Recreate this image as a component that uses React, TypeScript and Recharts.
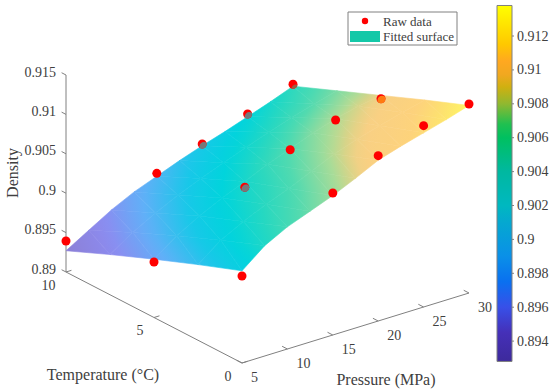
import React from 'react';
import { ScatterChart, Scatter, XAxis, YAxis, ReferenceLine, ReferenceArea } from 'recharts';

// raw measurements, rows follow RAW_TEMPERATURE, columns follow RAW_PRESSURE
const RAW_PRESSURE = [5, 15, 20, 25, 30];
const RAW_TEMPERATURE = [0, 5, 10];
const RAW_DENSITY = [
  [0.90104, 0.90802, 0.91098, 0.91301, 0.91398],
  [0.89704, 0.90297, 0.90596, 0.90796, 0.90888],
  [0.89393, 0.89897, 0.90091, 0.90294, 0.90494],
];
// dots sitting partly under the surface show another colour there
const COVERED_RAW = [
  { pressure: 15, temperature: 5, fill: '#77787a', cover: 0.8 },
  { pressure: 25, temperature: 10, fill: '#77787a', cover: 0.65 },
  { pressure: 20, temperature: 10, fill: '#77787a', cover: 0.65 },
  { pressure: 30, temperature: 10, fill: '#a05a40', cover: 0.2 },
  { pressure: 30, temperature: 5, fill: '#ff7a10', cover: 0.85 },
];

// fitted surface
const SURFACE_PRESSURE = [5, 7.5, 10, 12.5, 15, 17.5, 20, 22.5, 25, 27.5, 30];
const SURFACE_TEMPERATURE = [0, 2.5, 5, 7.5, 10];
const SURFACE_DENSITY = [
  [0.9017, 0.904, 0.9055, 0.9066, 0.9077, 0.909, 0.9104, 0.9113, 0.9121, 0.9129, 0.9138],
  [0.8996, 0.9018, 0.9033, 0.9046, 0.9057, 0.907, 0.9083, 0.9093, 0.9101, 0.9109, 0.9116],
  [0.8974, 0.8995, 0.9011, 0.9025, 0.9037, 0.905, 0.9061, 0.9072, 0.9081, 0.9088, 0.9093],
  [0.8951, 0.897, 0.8986, 0.9, 0.9012, 0.9023, 0.9034, 0.9044, 0.9054, 0.9062, 0.907],
  [0.8927, 0.8944, 0.8961, 0.8975, 0.8986, 0.8997, 0.9007, 0.9016, 0.9026, 0.9036, 0.9047],
];

const SURFACE_COLOR_Z = [0.8927, 0.8955, 0.898, 0.9005, 0.9025, 0.9045, 0.906, 0.908, 0.9088, 0.9095, 0.9115, 0.9125, 0.9138];
const SURFACE_COLORS = ['#8c7fd6', '#8c8cf0', '#60b0f8', '#18c8e8', '#00d4dc', '#28d8c0', '#50dab0', '#a8dc98', '#d8d488', '#f8d084', '#fdd27c', '#fde070', '#fff566'];

const BAR_COLOR_Z = [0.8928, 0.8945, 0.896, 0.8975, 0.899, 0.901, 0.902, 0.904, 0.906, 0.9068, 0.908, 0.909, 0.9097, 0.9105, 0.9115, 0.9125, 0.9138];
const BAR_COLORS = ['#3d2a9c', '#4530b8', '#3850e8', '#0a70f0', '#0a90e8', '#05a8d0', '#00b8c0', '#00b8a0', '#00c060', '#20c050', '#90b830', '#d0b010', '#f0a820', '#ffa820', '#ffc800', '#ffe000', '#ffff00'];

const DENSITY_TICKS = [0.89, 0.895, 0.9, 0.905, 0.91, 0.915];
const TEMPERATURE_TICKS = [0, 5, 10];
const PRESSURE_TICKS = [5, 10, 15, 20, 25, 30];
const BAR_TICKS = [0.894, 0.896, 0.898, 0.9, 0.902, 0.904, 0.906, 0.908, 0.91, 0.912];
const LEGEND_NAMES = ['Raw data', 'Fitted surface'];

const WIDTH = 550;
const HEIGHT = 392;
const FONT = '"Liberation Serif", serif';
const TEXT = '#404040';
const AXIS = '#808080';

// view of the 3D box, in chart units
const project = (pressure: number, temperature: number, density: number) => ({
  sx: 242 + ((pressure - 5) / 25) * 227 - (temperature / 10) * 176,
  sy: 363 - ((pressure - 5) / 25) * 70 - (temperature / 10) * 91 - ((density - 0.89) / 0.025) * 197,
});
const barY = (value: number) => 36 + ((0.912 - value) / 0.002) * 33.9;

const hexToRgb = (hex: string) => [1, 3, 5].map((i) => parseInt(hex.slice(i, i + 2), 16));

const surfaceColor = (z: number) => {
  let i = 0;
  while (i < SURFACE_COLOR_Z.length - 2 && z > SURFACE_COLOR_Z[i + 1]) i++;
  const t = Math.min(1, Math.max(0, (z - SURFACE_COLOR_Z[i]) / (SURFACE_COLOR_Z[i + 1] - SURFACE_COLOR_Z[i])));
  const a = hexToRgb(SURFACE_COLORS[i]);
  const b = hexToRgb(SURFACE_COLORS[i + 1]);
  return `rgb(${a.map((v, k) => Math.round(v + (b[k] - v) * t)).join(',')})`;
};

// two triangles per mesh cell
type Vertex = { sx: number; sy: number; z: number };
const vertex = (row: number, col: number): Vertex => {
  const z = SURFACE_DENSITY[row][col];
  return { ...project(SURFACE_PRESSURE[col], SURFACE_TEMPERATURE[row], z), z };
};
const triangles: { sx: number; sy: number; id: string; corners: Vertex[] }[] = [];
SURFACE_TEMPERATURE.slice(1).forEach((_, r) => {
  SURFACE_PRESSURE.slice(1).forEach((_, c) => {
    const a = vertex(r, c);
    const b = vertex(r, c + 1);
    const d = vertex(r + 1, c);
    const e = vertex(r + 1, c + 1);
    [[a, b, e], [a, e, d]].forEach((corners, k) => {
      triangles.push({ sx: corners[0].sx, sy: corners[0].sy, id: `tri-${r}-${c}-${k}`, corners });
    });
  });
});

// shades a triangle along the direction its density changes fastest
const TriangleShape = (props: any) => {
  const { cx, cy, payload } = props;
  const [a, b, c] = payload.corners as Vertex[];
  const ox = cx - payload.sx;
  const oy = cy - payload.sy;
  const ux = b.sx - a.sx, uy = b.sy - a.sy, vx = c.sx - a.sx, vy = c.sy - a.sy;
  const du = b.z - a.z, dv = c.z - a.z;
  const det = ux * vy - uy * vx;
  const gx = (du * vy - dv * uy) / det;
  const gy = (dv * ux - du * vx) / det;
  const g2 = gx * gx + gy * gy || 1e-12;
  const zs = [a.z, b.z, c.z];
  const lo = Math.min(...zs);
  const hi = Math.max(...zs);
  const x1 = a.sx + ((lo - a.z) * gx) / g2 + ox;
  const y1 = a.sy + ((lo - a.z) * gy) / g2 + oy;
  const x2 = a.sx + ((hi - a.z) * gx) / g2 + ox;
  const y2 = a.sy + ((hi - a.z) * gy) / g2 + oy;
  const points = payload.corners.map((p: Vertex) => `${p.sx + ox},${p.sy + oy}`).join(' ');
  return (
    <g>
      <defs>
        <linearGradient id={payload.id} gradientUnits="userSpaceOnUse" x1={x1} y1={y1} x2={x2} y2={y2}>
          {[0, 0.25, 0.5, 0.75, 1].map((t) => (
            <stop key={t} offset={t} stopColor={surfaceColor(lo + (hi - lo) * t)} />
          ))}
        </linearGradient>
      </defs>
      <polygon points={points} fill={`url(#${payload.id})`} stroke={`url(#${payload.id})`} strokeWidth={0.6} strokeLinejoin="round" />
    </g>
  );
};

const DOT_R = 4.5;
const DotShape = (props: any) => {
  const { cx, cy, payload } = props;
  const shift = payload.cover === undefined ? 0 : (1 - payload.cover) * DOT_R * 1.1;
  return (
    <g>
      <clipPath id={payload.key}>
        <circle cx={cx} cy={cy} r={DOT_R} />
      </clipPath>
      <circle cx={cx} cy={cy} r={DOT_R} fill="#ff0000" />
      {payload.fill && (
        <circle cx={cx + shift * 0.6 + 0.6} cy={cy + shift + 0.8} r={DOT_R} fill={payload.fill} clipPath={`url(#${payload.key})`} />
      )}
    </g>
  );
};

const rawPoints = RAW_TEMPERATURE.flatMap((temperature, r) =>
  RAW_PRESSURE.map((pressure, c) => {
    const covered = COVERED_RAW.find((d) => d.pressure === pressure && d.temperature === temperature);
    return { ...project(pressure, temperature, RAW_DENSITY[r][c]), key: `dot-${r}-${c}`, fill: covered?.fill, cover: covered?.cover };
  })
);

const textShape = (anchor: string, dx: number, dy: number, size = 14, rotate = 0) => (props: any) => {
  const x = props.cx + dx;
  const y = props.cy + dy;
  return (
    <text
      x={x}
      y={y}
      textAnchor={anchor}
      dominantBaseline="central"
      fontFamily={FONT}
      fontSize={size}
      fill={TEXT}
      transform={rotate ? `rotate(${rotate} ${x} ${y})` : undefined}
    >
      {props.payload.text}
    </text>
  );
};

const noLabel = { isAnimationActive: false, legendType: 'none' as const };

const seg = (a: { sx: number; sy: number }, b: { sx: number; sy: number }, key: string, stroke = AXIS) => (
  <ReferenceLine
    key={key}
    segment={[{ x: a.sx, y: a.sy }, { x: b.sx, y: b.sy }]}
    stroke={stroke}
    strokeWidth={1}
    ifOverflow="visible"
  />
);

const App: React.FC = () => {
  const densityLabels = DENSITY_TICKS.map((d) => ({ ...project(5, 10, d), text: String(d) }));
  const temperatureLabels = TEMPERATURE_TICKS.map((t) => ({ ...project(5, t, 0.89), text: String(t) }));
  const pressureLabels = PRESSURE_TICKS.map((p) => ({ ...project(p, 0, 0.89), text: String(p) }));
  const barLabels = BAR_TICKS.map((v) => ({ sx: 517, sy: barY(v), text: String(v) }));
  const barTop = barY(BAR_COLOR_Z[BAR_COLOR_Z.length - 1]);
  const barBottom = barY(BAR_COLOR_Z[0]);
  const span = BAR_COLOR_Z[BAR_COLOR_Z.length - 1] - BAR_COLOR_Z[0];

  return (
    <div style={{ position: 'absolute', left: 0, top: 0 }}>
      <ScatterChart width={WIDTH} height={HEIGHT} margin={{ top: 0, right: 0, bottom: 0, left: 0 }}>
        <defs>
          <linearGradient id="colorbar" x1="0" y1="1" x2="0" y2="0">
            {BAR_COLOR_Z.map((z, i) => (
              <stop key={z} offset={(z - BAR_COLOR_Z[0]) / span} stopColor={BAR_COLORS[i]} />
            ))}
          </linearGradient>
        </defs>
        <XAxis type="number" dataKey="sx" domain={[0, WIDTH]} hide />
        <YAxis type="number" dataKey="sy" domain={[0, HEIGHT]} reversed hide />

        {/* 3D box edges and ticks */}
        {seg(project(5, 10, 0.915), project(5, 10, 0.89), 'z-axis')}
        {seg(project(5, 10, 0.89), project(5, 0, 0.89), 't-axis')}
        {seg(project(5, 0, 0.89), project(30, 0, 0.89), 'p-axis')}
        {DENSITY_TICKS.map((d) => seg(project(5, 10, d), project(5, 10.25, d), `z-${d}`))}
        {TEMPERATURE_TICKS.map((t) => seg(project(5, t, 0.89), project(5.6, t, 0.89), `t-${t}`))}
        {PRESSURE_TICKS.map((p) => seg(project(p, 0, 0.89), project(p, 0.3, 0.89), `p-${p}`))}

        <Scatter data={triangles} shape={TriangleShape} {...noLabel} />
        <Scatter data={rawPoints} shape={DotShape} {...noLabel} />

        <Scatter data={densityLabels} shape={textShape('end', -10, -3)} {...noLabel} />
        <Scatter data={temperatureLabels} shape={textShape('end', -10.5, 13)} {...noLabel} />
        <Scatter data={pressureLabels} shape={textShape('start', 9, 14)} {...noLabel} />
        <Scatter data={[{ sx: 12, sy: 173, text: 'Density' }]} shape={textShape('middle', 0, 0, 16, -90)} {...noLabel} />
        <Scatter data={[{ sx: 103, sy: 374, text: 'Temperature (°C)' }]} shape={textShape('middle', 0, 0, 16)} {...noLabel} />
        <Scatter data={[{ sx: 386, sy: 379, text: 'Pressure (MPa)' }]} shape={textShape('middle', 0, 0, 16)} {...noLabel} />

        {/* legend */}
        <ReferenceArea x1={348} x2={457} y1={12} y2={45} fill="#ffffff" fillOpacity={1} stroke={AXIS} ifOverflow="visible" />
        <ReferenceArea x1={350} x2={380} y1={31} y2={42} fill="#14c8a8" fillOpacity={1} stroke="none" ifOverflow="visible" />
        <Scatter data={[{ sx: 365, sy: 21, key: 'legend-dot' }]} shape={(p: any) => <circle cx={p.cx} cy={p.cy} r={3.2} fill="#ff0000" />} {...noLabel} />
        <Scatter data={[{ sx: 383, sy: 21, text: LEGEND_NAMES[0] }]} shape={textShape('start', 0, 0, 13)} {...noLabel} />
        <Scatter data={[{ sx: 383, sy: 36.5, text: LEGEND_NAMES[1] }]} shape={textShape('start', 0, 0, 13)} {...noLabel} />

        {/* colour bar */}
        <ReferenceArea x1={497} x2={512} y1={barTop} y2={barBottom} fill="url(#colorbar)" fillOpacity={1} stroke={AXIS} ifOverflow="visible" />
        {BAR_TICKS.map((v) => seg({ sx: 512, sy: barY(v) }, { sx: 514, sy: barY(v) }, `bar-${v}`))}
        <Scatter data={barLabels} shape={textShape('start', 0, 0)} {...noLabel} />
      </ScatterChart>
    </div>
  );
};

export default App;
